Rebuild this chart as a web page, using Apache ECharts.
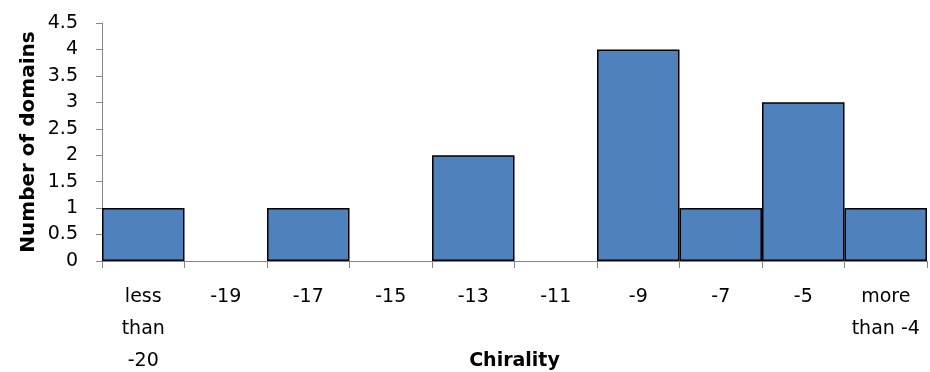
<!DOCTYPE html>
<html>
<head>
<meta charset="utf-8">
<script src="https://cdn.jsdelivr.net/npm/echarts@6/dist/echarts.min.js"></script>
<style>html,body{margin:0;padding:0;background:#fff}#c{width:930px;height:372px}</style>
</head>
<body>
<div id="c"></div>
<script>
const categories = ["less\nthan\n-20", "-19", "-17", "-15", "-13", "-11", "-9", "-7", "-5", "more\nthan -4"];
const counts = [1, 0, 1, 0, 2, 0, 4, 1, 3, 1];
const yTicks = {min: 0, max: 4.5, interval: 0.5};
const FONT = "DejaVu Sans";
const barData = counts.map(v => v === 0 ? {value: v, itemStyle: {borderWidth: 0}} : v);
const chart = echarts.init(document.getElementById('c'), null, {renderer: 'canvas'});
chart.setOption({
  animation: false,
  backgroundColor: '#fff',
  grid: {left: 102, right: 3, top: 23, bottom: 111, containLabel: false, outerBoundsMode: 'none'},
  xAxis: {
    type: 'category',
    data: categories,
    name: 'Chirality',
    nameLocation: 'middle',
    nameGap: 91,
    nameMoveOverlap: false,
    nameTextStyle: {fontFamily: FONT, fontSize: 19, fontWeight: 'bold', color: '#000'},
    axisLine: {lineStyle: {color: '#868686', width: 1}},
    axisTick: {show: true, alignWithLabel: false, length: 7, lineStyle: {color: '#868686'}},
    axisLabel: {fontFamily: FONT, fontSize: 19, color: '#000', lineHeight: 32, margin: 20, interval: 0}
  },
  yAxis: {
    type: 'value',
    min: yTicks.min, max: yTicks.max, interval: yTicks.interval,
    name: 'Number of domains',
    nameLocation: 'middle',
    nameGap: 63,
    nameMoveOverlap: false,
    nameTextStyle: {fontFamily: FONT, fontSize: 20, fontWeight: 'bold', color: '#000'},
    axisLine: {show: true, lineStyle: {color: '#868686', width: 1}},
    axisTick: {show: true, length: 6, lineStyle: {color: '#868686'}},
    splitLine: {show: false},
    axisLabel: {fontFamily: FONT, fontSize: 19, color: '#000', margin: 24}
  },
  series: [{
    type: 'bar',
    data: barData,
    barCategoryGap: '0%',
    itemStyle: {color: '#4F81BD', borderColor: '#000', borderWidth: 1.5}
  }]
});
</script>
</body>
</html>
